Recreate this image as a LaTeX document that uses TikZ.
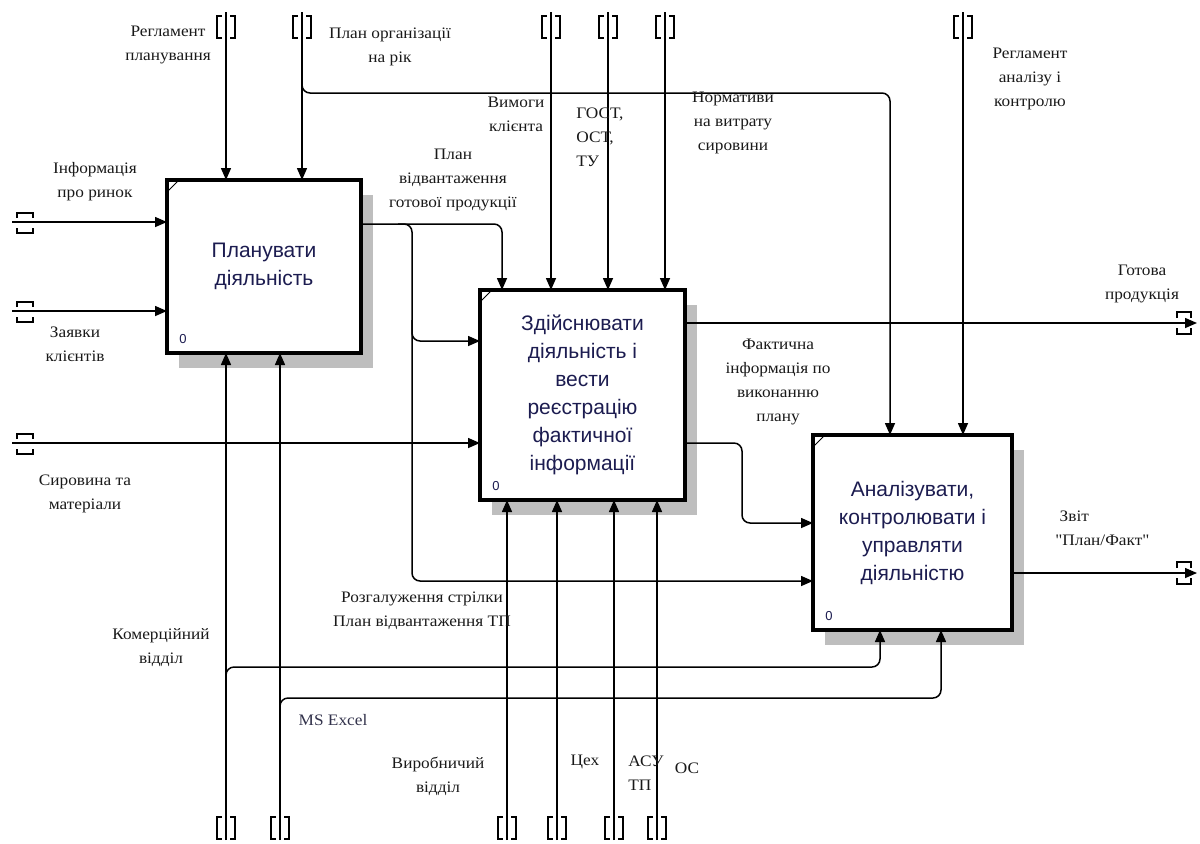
\documentclass[tikz,border=0pt]{standalone}
\usepackage{fontspec}
\setmainfont{Liberation Serif}
\newfontfamily\boxfont{Liberation Sans}
\newfontfamily\lblfont[FakeStretch=1.08]{Liberation Serif}
\usetikzlibrary{arrows.meta,calc,backgrounds}
\definecolor{boxtxt}{RGB}{28,28,80}
\definecolor{lbltxt}{RGB}{25,25,25}
\definecolor{excelc}{RGB}{50,50,75}
\definecolor{shadowc}{RGB}{190,190,190}
\tikzset{
  fbox/.style={draw, line width=1.75pt, fill=white, inner sep=0pt, outer sep=0pt,
    align=center, font=\boxfont\fontsize{10.5}{14}\selectfont, text=boxtxt},
  lbl/.style={inner sep=0pt, align=center, font=\lblfont\fontsize{8}{12}\selectfont, text=lbltxt},
  num/.style={inner sep=0pt, font=\boxfont\fontsize{6.5}{7}\selectfont, text=boxtxt},
  arr/.style={line width=0.75pt, -{Triangle[length=6pt,width=5pt]}, rounded corners=4pt},
  brk/.style={line width=0.75pt},
  corner/.style={line width=0.5pt}
}
\newcommand\idefTop[1]{%
  \draw[brk] ($(#1)+(-4,4)$) -- ++(-5,0) -- ++(0,22) -- ++(5,0);
  \draw[brk] ($(#1)+(4,4)$) -- ++(5,0) -- ++(0,22) -- ++(-5,0);}
\newcommand\idefBot[1]{%
  \draw[brk] ($(#1)+(-4,-23)$) -- ++(-5,0) -- ++(0,22) -- ++(5,0);
  \draw[brk] ($(#1)+(4,-23)$) -- ++(5,0) -- ++(0,22) -- ++(-5,0);}
\newcommand\idefLeft[1]{%
  \draw[brk] ($(#1)+(5,-4)$) -- ++(0,-5) -- ++(16,0) -- ++(0,5);
  \draw[brk] ($(#1)+(5,6)$) -- ++(0,5) -- ++(16,0) -- ++(0,-5);}
\newcommand\idefRight[1]{%
  \draw[brk] ($(#1)+(-20,-5)$) -- ++(0,-6) -- ++(14,0) -- ++(0,6);
  \draw[brk] ($(#1)+(-20,5)$) -- ++(0,6) -- ++(14,0) -- ++(0,-6);}
\begin{document}
\begin{tikzpicture}[x=0.5pt,y=-0.5pt]
\useasboundingbox (0,0) rectangle (1200,843);

% function boxes
\node[fbox, minimum width=97pt, minimum height=86.5pt] (A) at (264,266.5)
  {Планувати\\діяльність};
\node[fbox, minimum width=102.5pt, minimum height=105pt] (B) at (582.5,395)
  {Здійснювати\\діяльність і\\вести\\реєстрацію\\фактичної\\інформації};
\node[fbox, minimum width=99.5pt, minimum height=97.5pt] (C) at (912.5,532.5)
  {Аналізувати,\\контролювати і\\управляти\\діяльністю};

\begin{scope}[on background layer]
  \foreach \b in {A,B,C}
    \fill[shadowc] ($(\b.south west)+(12,15)$) rectangle ($(\b.north east)+(12,15)$);
\end{scope}

\foreach \b in {A,B,C}{
  \draw[corner] ($(\b.north west)+(1,11)$) -- ($(\b.north west)+(11,1)$);
}
\node[num] (nA) at ($(A.south west)+(16,-14)$) {0};
\node[num] (nB) at ($(B.south west)+(16,-14)$) {0};
\node[num] (nC) at ($(C.south west)+(16,-14)$) {0};

% free ends
\coordinate (i1) at (12,222);
\coordinate (i2) at (12,311);
\coordinate (i3) at (12,443);
\coordinate (c1) at (226,12);
\coordinate (c2) at (302,12);
\coordinate (c3) at (551,12);
\coordinate (c4) at (608,12);
\coordinate (c5) at (665,12);
\coordinate (c6) at (963,12);
\coordinate (m1) at (226,840);
\coordinate (m2) at (280,840);
\coordinate (m3) at (507,840);
\coordinate (m4) at (557,840);
\coordinate (m5) at (614,840);
\coordinate (m6) at (657,840);
\coordinate (e1) at (1197,323);
\coordinate (e2) at (1197,573);

% inputs
\draw[arr] (i1) -- (i1 -| A.west);
\draw[arr] (i2) -- (i2 -| A.west);
\draw[arr] (i3) -- (i3 -| B.west);
\idefLeft{i1}
\idefLeft{i2}
\idefLeft{i3}

% controls
\draw[arr] (c1) -- (c1 |- A.north);
\draw[arr] (c2) -- (c2 |- A.north);
\draw[arr] (c3) -- (c3 |- B.north);
\draw[arr] (c4) -- (c4 |- B.north);
\draw[arr] (c5) -- (c5 |- B.north);
\draw[arr] (c6) -- (c6 |- C.north);
\foreach \c in {c1,c2,c3,c4,c5,c6} {\idefTop{\c}}
\coordinate (j1) at (302,93);
\draw[arr] ($(j1)+(0,-14)$) -- (j1) -| ($(C.north west)+(77,0)$);

% output of A and branches
\coordinate (o1) at ($(A.north east)+(0,44)$);
\coordinate (k) at (412,224);
\draw[arr] (o1) -| ($(B.north west)+(22,0)$);
\coordinate (bl1) at ($(B.north west)+(0,51)$);
\coordinate (cl2) at ($(C.north west)+(0,146)$);
\draw[arr] ($(k)+(-14,0)$) -- (k) -- (k |- cl2) -- (cl2);
\draw[arr] ($(k)+(0,96)$) -- (k |- bl1) -- (bl1);

% outputs of B
\coordinate (o2) at ($(B.north east)+(0,33)$);
\draw[arr] (o2) -- (e1);
\idefRight{e1}
\coordinate (o3) at ($(B.north east)+(0,153)$);
\coordinate (cl1) at ($(C.north west)+(0,88)$);
\draw[arr] (o3) -- ++(57,0) |- (cl1);

% output of C
\coordinate (o4) at ($(C.north east)+(0,138)$);
\draw[arr] (o4) -- (e2);
\idefRight{e2}

% mechanisms
\draw[arr] (m1) -- (m1 |- A.south);
\draw[arr] (m2) -- (m2 |- A.south);
\draw[arr] (m3) -- (m3 |- B.south);
\draw[arr] (m4) -- (m4 |- B.south);
\draw[arr] (m5) -- (m5 |- B.south);
\draw[arr] (m6) -- (m6 |- B.south);
\foreach \m in {m1,m2,m3,m4,m5,m6} {\idefBot{\m}}
\draw[arr] ($(m1)+(0,-155)$) |- ($(C.south west)+(67,37)$) -- ($(C.south west)+(67,0)$);
\draw[arr] ($(m2)+(0,-125)$) |- ($(C.south west)+(128,68)$) -- ($(C.south west)+(128,0)$);

% labels
\node[lbl] (l1) at (168,45) {Регламент\\планування};
\node[lbl] (l2) at (390,47) {План організації\\на рік};
\node[lbl] (l3) at (95,182) {Інформація\\про ринок};
\node[lbl] (l4) at (75,344) {Заявки\\клієнтів};
\node[lbl] (l5) at (85,494) {Сировина та\\матеріали};
\node[lbl] (l6) at (453,180) {План\\відвантаження\\готової продукції};
\node[lbl] (l7) at (516,114) {Вимоги\\клієнта};
\node[lbl, align=left, anchor=west] (l8) at (576,137) {ГОСТ,\\ОСТ,\\ТУ};
\node[lbl] (l9) at (733,123) {Нормативи\\на витрату\\сировини};
\node[lbl] (l10) at (1030,79) {Регламент\\аналізу і\\контролю};
\node[lbl] (l11) at (1142,284) {Готова\\продукція};
\node[lbl] (l12) at (778,382) {Фактична\\інформація по\\виконанню\\плану};
\node[lbl, align=left, anchor=west] (l13) at (1055,528) {\ Звіт\\"План/Факт"};
\node[lbl] (l14) at (422,611) {Розгалуження стрілки\\План відвантаження ТП};
\node[lbl] (l15) at (161,648) {Комерційний\\відділ};
\node[lbl, text=excelc] (l16) at (333,720) {MS Excel};
\node[lbl] (l17) at (438,776) {Виробничий\\відділ};
\node[lbl] (l18) at (585,762) {Цех};
\node[lbl, align=left, anchor=west] (l19) at (628,773) {АСУ\\ТП};
\node[lbl] (l20) at (687,768) {ОС};
\end{tikzpicture}
\end{document}
